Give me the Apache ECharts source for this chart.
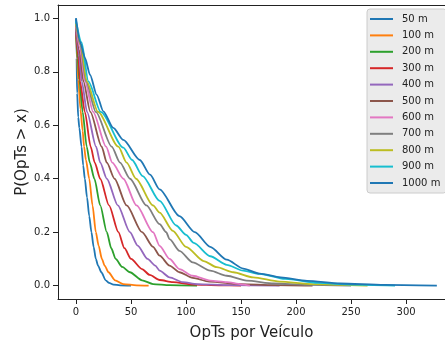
<!DOCTYPE html>
<html>
<head>
<meta charset="utf-8">
<script src="https://cdn.jsdelivr.net/npm/echarts@6/dist/echarts.min.js"></script>
<style>
  html, body { margin: 0; padding: 0; background: #fff; }
  #chart { width: 445px; height: 344px; }
</style>
</head>
<body>
<div id="chart"></div>
<script>
// Complementary CDF of OpTs per vehicle, one curve per range.
const seriesNames = ['50 m', '100 m', '200 m', '300 m', '400 m', '500 m',
                     '600 m', '700 m', '800 m', '900 m', '1000 m'];
const colors = ['#1f77b4', '#ff7f0e', '#2ca02c', '#d62728', '#9467bd', '#8c564b',
                '#e377c2', '#7f7f7f', '#bcbd22', '#17becf', '#1f77b4'];

const xTicks = [0, 50, 100, 150, 200, 250, 300];
const yTicks = [0, 0.2, 0.4, 0.6, 0.8, 1.0];

// [OpTs, P(OpTs > x)]
const ccdf50 = [[0,1.0],[0.5,0.85],[1,0.72],[2,0.63],[3,0.59],[5,0.52],[6.5,0.45],[8,0.4],[10,0.33],[12,0.26],[14,0.2],[16,0.145],[18,0.1],[20,0.075],[23,0.05],[27,0.02],[30,0.01],[34,0.004],[40,0.001],[50,0]];
const ccdf100 = [[0,0.97],[1,0.85],[2,0.77],[4,0.66],[6,0.58],[7.3,0.52],[9,0.47],[12,0.4],[15,0.3],[18,0.2],[20.5,0.15],[23.5,0.1],[26,0.075],[29.5,0.05],[35.5,0.02],[43,0.006],[55,0.001],[66,0]];
const ccdf200 = [[0,0.96],[1.5,0.85],[3,0.77],[6,0.65],[9.7,0.52],[12.5,0.46],[16.7,0.4],[22,0.3],[28,0.2],[32,0.14],[36,0.1],[42,0.07],[49,0.05],[60,0.02],[70,0.006],[85,0.002],[110,0]];
const ccdf300 = [[0,0.95],[2,0.86],[3.6,0.764],[8,0.65],[13.3,0.52],[17,0.46],[22,0.4],[30,0.3],[38.5,0.2],[44,0.14],[50,0.1],[60,0.062],[67,0.04],[76,0.021],[88,0.013],[107,0.004],[130,0.001],[150,0]];
const ccdf400 = [[0,0.96],[2.5,0.87],[5.2,0.764],[10,0.65],[18.2,0.52],[22,0.46],[28,0.4],[38,0.3],[49,0.2],[56,0.15],[65,0.1],[72,0.075],[76,0.056],[85,0.031],[97,0.013],[110,0.006],[140,0.002],[185,0]];
const ccdf500 = [[0,0.97],[3,0.88],[6.7,0.764],[13,0.65],[23.3,0.52],[28,0.46],[35,0.4],[46,0.3],[60,0.2],[70,0.145],[76,0.112],[85,0.075],[94,0.05],[106,0.029],[121,0.015],[150,0.006],[180,0.002],[215,0]];
const ccdf600 = [[0,0.97],[3.5,0.89],[8.2,0.764],[15.5,0.65],[27.3,0.52],[33,0.46],[43,0.4],[55,0.3],[70,0.2],[76,0.149],[85,0.1],[94,0.062],[106,0.037],[122,0.019],[137,0.013],[150,0.005],[158,0]];
const ccdf700 = [[0,0.98],[4,0.9],[9.1,0.764],[18,0.65],[32.4,0.52],[40,0.46],[49,0.4],[64,0.3],[76,0.23],[82,0.2],[85,0.174],[94,0.13],[106,0.087],[122,0.056],[137,0.037],[155,0.019],[180,0.008],[210,0.003],[250,0]];
const ccdf800 = [[0,0.98],[4.5,0.9],[9.7,0.764],[20,0.65],[38.5,0.52],[46,0.46],[54.5,0.4],[70,0.3],[76,0.273],[88,0.205],[100,0.145],[116,0.092],[128,0.069],[143,0.05],[161,0.031],[185,0.015],[215,0.006],[265,0]];
const ccdf900 = [[0,0.99],[5,0.91],[11.2,0.764],[22.5,0.65],[43,0.516],[51,0.47],[60.6,0.41],[76,0.317],[91,0.225],[100,0.19],[107,0.16],[122,0.11],[137,0.078],[152,0.056],[167,0.044],[190,0.025],[220,0.01],[250,0.004],[290,0]];
const ccdf1000 = [[0,1.0],[3.6,0.913],[8.2,0.851],[12.7,0.789],[18.8,0.714],[24.8,0.652],[33.9,0.59],[43,0.545],[58,0.47],[67.3,0.415],[76,0.36],[94,0.26],[108,0.2],[122,0.145],[137,0.097],[152,0.064],[167,0.045],[186,0.031],[210,0.018],[240,0.008],[280,0.003],[328,0]];

const curves = [ccdf50, ccdf100, ccdf200, ccdf300, ccdf400, ccdf500,
                ccdf600, ccdf700, ccdf800, ccdf900, ccdf1000];

const font = 'DejaVu Sans';
const ink = '#222';
const xMin = -16.4, xMax = 335.4;

const chart = echarts.init(document.getElementById('chart'), null, { renderer: 'canvas' });

chart.setOption({
  animation: false,
  backgroundColor: '#fff',
  color: colors,
  textStyle: { fontFamily: font },
  grid: { left: 58, top: 5, right: 0, bottom: 45, containLabel: false, outerBoundsMode: 'none' },
  xAxis: [{
    type: 'value',
    min: xMin, max: xMax,
    name: 'OpTs por Veículo',
    nameLocation: 'middle',
    nameGap: 27,
    nameMoveOverlap: false,
    nameTextStyle: { fontSize: 15, color: ink, fontFamily: font },
    axisLine: { show: true, onZero: false, lineStyle: { color: ink, width: 1 } },
    axisTick: { show: true, length: 5, lineStyle: { color: ink }, customValues: xTicks },
    axisLabel: { fontSize: 10, color: ink, margin: 8, fontFamily: font, customValues: xTicks,
                 formatter: v => String(v) },
    splitLine: { show: false }
  }, {
    // top frame line
    type: 'value',
    position: 'top',
    min: xMin, max: xMax,
    axisLine: { show: true, onZero: false, lineStyle: { color: ink, width: 1 } },
    axisTick: { show: false },
    axisLabel: { show: false },
    splitLine: { show: false }
  }],
  yAxis: {
    type: 'value',
    min: -0.05, max: 1.05,
    name: 'P(OpTs > x)',
    nameLocation: 'middle',
    nameGap: 28,
    nameMoveOverlap: false,
    nameTextStyle: { fontSize: 15, color: ink, fontFamily: font },
    axisLine: { show: true, onZero: false, lineStyle: { color: ink, width: 1 } },
    axisTick: { show: true, length: 5, lineStyle: { color: ink }, customValues: yTicks },
    axisLabel: { fontSize: 10, color: ink, margin: 8, fontFamily: font, customValues: yTicks,
                 formatter: v => v.toFixed(1) },
    splitLine: { show: false }
  },
  legend: {
    orient: 'vertical',
    left: 367, top: 9,
    padding: [4, 6, 4, 3],
    itemGap: 4.4,
    itemWidth: 23,
    itemHeight: 2,
    icon: 'rect',
    backgroundColor: '#ebebeb',
    borderColor: '#cccccc',
    borderWidth: 1,
    borderRadius: 3,
    textStyle: { fontSize: 10, color: ink, fontFamily: font, lineHeight: 12, padding: [0, 0, 0, 4] },
    data: seriesNames
  },
  series: curves.map((pts, i) => ({
    name: seriesNames[i],
    type: 'line',
    xAxisIndex: 0,
    data: pts,
    showSymbol: false,
    symbol: 'none',
    smooth: 0.25,
    smoothMonotone: 'x',
    lineStyle: { width: 1.8, color: colors[i] },
    itemStyle: { color: colors[i] },
    emphasis: { disabled: true }
  }))
});
</script>
</body>
</html>
